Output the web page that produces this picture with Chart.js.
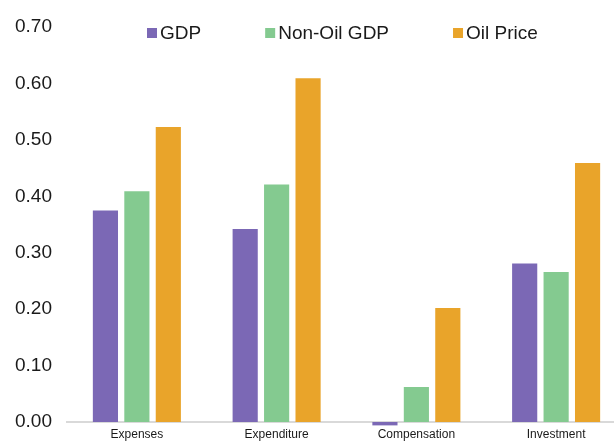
<!DOCTYPE html>
<html>
<head>
<meta charset="utf-8">
<title>Elasticities</title>
<script src="https://cdn.jsdelivr.net/npm/chart.js@4/dist/chart.umd.min.js"></script>
<style>
  html, body { margin: 0; padding: 0; overflow: hidden; background: #fff; }
  #wrap { width: 626px; height: 441px; }
</style>
</head>
<body>
<div id="wrap"><canvas id="mycanvas" width="626" height="441"></canvas></div>
<script>
// data
var categories = ["Expenses", "Expenditure", "Compensation", "Investment"];
var seriesNames = ["GDP", "Non-Oil GDP", "Oil Price"];
var gdp       = [0.375, 0.342, -0.006, 0.281];
var nonOilGdp = [0.409, 0.421, 0.062, 0.266];
var oilPrice  = [0.523, 0.609, 0.202, 0.459];
var yTicks    = [0, 0.1, 0.2, 0.3, 0.4, 0.5, 0.6, 0.7];

var colors = ["#7b68b5", "#84ca90", "#e9a42a"];
var fontFam = "'Liberation Sans', Arial, sans-serif";

// legend drawn inside the plot, like the original
var inLegend = {
  id: "inLegend",
  afterDraw: function(chart) {
    var ctx = chart.ctx;
    var x = 147, y = 33;
    ctx.save();
    ctx.font = "19px " + fontFam;
    ctx.textBaseline = "middle";
    chart.data.datasets.forEach(function(ds) {
      ctx.fillStyle = ds.backgroundColor;
      ctx.fillRect(x, y - 5, 10, 10);
      ctx.fillStyle = "#1a1a1a";
      ctx.fillText(ds.label, x + 13, y + 1);
      x += 13 + ctx.measureText(ds.label).width + 64;
    });
    ctx.restore();
  }
};

var allSeries = [gdp, nonOilGdp, oilPrice];
var datasets = [];
for (var i = 0; i < allSeries.length; i++) {
  datasets.push({
    label: seriesNames[i],
    data: allSeries[i],
    backgroundColor: colors[i],
    borderWidth: 0,
    categoryPercentage: 0.675,
    barPercentage: 0.8,
    clip: false
  });
}

new Chart(document.getElementById("mycanvas"), {
  type: "bar",
  data: { labels: categories, datasets: datasets },
  options: {
    responsive: false,
    animation: false,
    layout: { padding: { top: 27, left: 0, right: 0, bottom: 0 } },
    plugins: { legend: { display: false }, tooltip: { enabled: false } },
    scales: {
      x: {
        grid: { display: false, drawTicks: false },
        border: { display: true, color: "#d9d9d9", width: 2 },
        ticks: { color: "#1a1a1a", font: { family: fontFam, size: 12 }, padding: 5, maxRotation: 0 },
        afterFit: function(s) { s.height = 19; s.paddingLeft = 0; s.paddingRight = 0; }
      },
      y: {
        min: 0,
        max: 0.7,
        afterBuildTicks: function(s) { s.ticks = yTicks.map(function(v) { return { value: v }; }); },
        grid: { display: false, drawTicks: false },
        border: { display: false },
        ticks: {
          color: "#1a1a1a",
          font: { family: fontFam, size: 19 },
          padding: 15,
          callback: function(v) { return Number(v).toFixed(2); }
        },
        afterFit: function(s) { s.width = 67; s.paddingTop = 0; s.paddingBottom = 0; }
      }
    }
  },
  plugins: [inLegend]
});
</script>
</body>
</html>
